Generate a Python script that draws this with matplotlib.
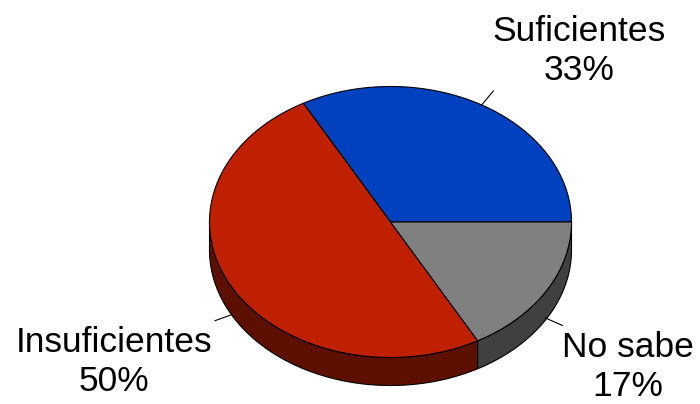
import numpy as np
import matplotlib.pyplot as plt
from matplotlib.patches import Polygon

plt.rcParams['font.family'] = ['Liberation Sans', 'DejaVu Sans']

# data
labels = ['Suficientes', 'Insuficientes', 'No sabe']
values = [33, 50, 17]
top_colors = ['#0041BF', '#BF2000', '#808080']
side_colors = ['#002070', '#5E1000', '#404040']

# pie geometry in pixels
cx, cy = 390.5, 222.0
rx, ry = 181.0, 135.5
depth = 28.0

fig = plt.figure(figsize=(7, 4.04), dpi=100)
ax = fig.add_axes([0, 0, 1, 1])
ax.set_xlim(0, 700)
ax.set_ylim(404, 0)
ax.axis('off')


def ell(t, dy=0.0):
    return np.column_stack([cx + rx * np.cos(t), cy - ry * np.sin(t) + dy])


fracs = np.array(values) / sum(values)
bounds = np.concatenate([[0], np.cumsum(fracs)]) * 2 * np.pi
lw = 0.8

# sides (front half only: angles pi..2pi)
for i in range(len(values)):
    a0, a1 = max(bounds[i], np.pi), min(bounds[i + 1], 2 * np.pi)
    if a1 <= a0:
        continue
    t = np.linspace(a0, a1, 120)
    pts = np.vstack([ell(t), ell(t[::-1], depth)])
    ax.add_patch(Polygon(pts, closed=True, facecolor=side_colors[i],
                         edgecolor='black', linewidth=lw))

# top faces
for i in range(len(values)):
    t = np.linspace(bounds[i], bounds[i + 1], 200)
    pts = np.vstack([[cx, cy], ell(t)])
    ax.add_patch(Polygon(pts, closed=True, facecolor=top_colors[i],
                         edgecolor='black', linewidth=lw))

# labels with leader lines
label_pos = [(579, 51), (114, 362), (628, 367)]
leaders = [((481.7, 105), (493.3, 91)),
           ((230.7, 315), (215, 320.7)),
           ((545.5, 318), (562.5, 325.5))]
for lab, v, (x, y), (p0, p1) in zip(labels, values, label_pos, leaders):
    ax.text(x, y, f'{lab}\n{v}%', ha='center', va='center', fontsize=25.5,
            linespacing=1.2)
    ax.plot([p0[0], p1[0]], [p0[1], p1[1]], color='black', linewidth=0.8)

fig.savefig('out.png', dpi=100)
